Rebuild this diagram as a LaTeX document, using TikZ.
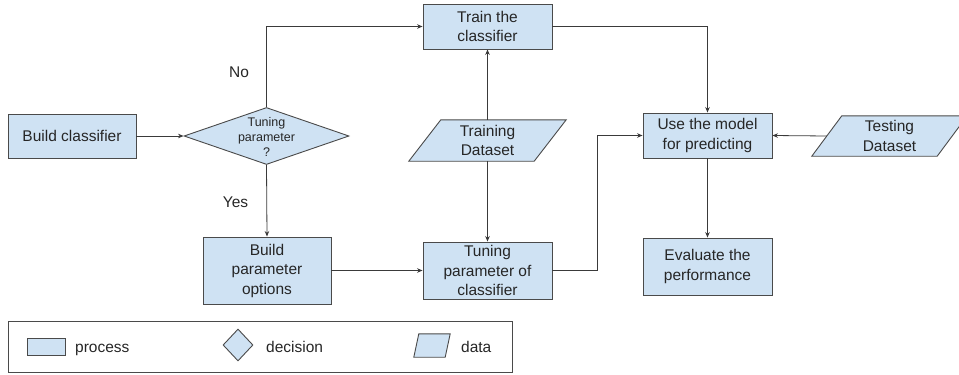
\documentclass[tikz,border=0pt]{standalone}
\usepackage{fontspec}
\setmainfont{Liberation Sans}
\usetikzlibrary{arrows.meta,shapes.geometric,backgrounds}

\definecolor{boxfill}{HTML}{CFE2F3}
\definecolor{boxline}{HTML}{4A4A4A}
\definecolor{wire}{HTML}{3A3A3A}
\definecolor{ink}{HTML}{262626}

\tikzset{
  basefont/.style={font=\fontsize{15.5}{19.5}\selectfont, text=ink},
  process/.style={rectangle, draw=boxline, fill=boxfill, line width=0.9pt,
    inner sep=0pt, align=center, basefont},
  decision/.style={diamond, draw=boxline, fill=boxfill, line width=0.9pt,
    inner sep=0pt},
  datanode/.style={rectangle, inner sep=0pt, align=center, basefont},
  smalltext/.style={align=center, inner sep=0pt,
    font=\fontsize{12.5}{15}\selectfont, text=ink},
  flow/.style={draw=wire, line width=0.8pt, -{Stealth[length=5.5pt,width=4.5pt]}},
  plain/.style={align=left, inner sep=0pt, basefont},
}

% slanted data shape drawn behind a named node
\newcommand\slantbox[2]{%
  \begin{scope}[on background layer]
    \filldraw[draw=boxline, fill=boxfill, line width=0.9pt]
      ([xshift=#2pt]#1.north west) -- ([xshift=#2pt]#1.north east) --
      ([xshift=-#2pt]#1.south east) -- ([xshift=-#2pt]#1.south west) -- cycle;
  \end{scope}}

\begin{document}
\begin{tikzpicture}[x=1pt, y=-1pt]
  \useasboundingbox (0,0) rectangle (959,375);

  % main flow
  \node[process, minimum width=128pt, minimum height=44pt] (build) at (72,136) {Build classifier};
  \node[decision, minimum width=165pt, minimum height=57pt] (decide) at (266.5,136) {};
  \node[smalltext] (decidetxt) at (266.5,137) {Tuning\\parameter\\?};
  \node[process, minimum width=129pt, minimum height=45pt] (train) at (487.5,26.5) {Train the\\classifier};
  \node[datanode, minimum width=125pt, minimum height=41pt] (trainset) at (487.5,140.5) {Training\\Dataset};
  \node[process, minimum width=128pt, minimum height=67pt] (params) at (267,270.5) {Build\\parameter\\options};
  \node[process, minimum width=129pt, minimum height=57pt] (tuning) at (487.5,270.5) {Tuning\\parameter of\\classifier};
  \node[process, minimum width=129pt, minimum height=45pt] (use) at (707.5,135.5) {Use the model\\for predicting};
  \node[process, minimum width=129pt, minimum height=57pt] (eval) at (707.5,266.5) {Evaluate the\\performance};
  \node[datanode, minimum width=125pt, minimum height=40pt] (testset) at (889.5,136) {Testing\\Dataset};
  \slantbox{trainset}{16}
  \slantbox{testset}{15}

  % branch labels
  \node[plain] (nolabel) at (239,72) {No};
  \node[plain] (yeslabel) at (235.5,202) {Yes};

  % connectors
  \draw[flow] (build) -- (decide);
  \draw[flow] (decide.north) |- (train.west);
  \draw[flow] (decide.south) -- (params.north);
  \draw[flow] (params) -- (tuning);
  \draw[flow] (trainset.north) -- (train.south);
  \draw[flow] (trainset.south) -- (tuning.north);
  \draw[flow] (train.east) -| (use.north);
  \draw[flow] (tuning.east) -- ++(45,0) |- (use.west);
  \draw[flow] (testset.west) -- (use.east);
  \draw[flow] (use) -- (eval);

  % legend
  \node[draw=boxline, line width=0.9pt, minimum width=504pt, minimum height=51pt,
        inner sep=0pt] (legend) at (260,346.5) {};
  \node[process, minimum width=38pt, minimum height=17pt] (legproc) at (46,346.5) {};
  \node[plain, anchor=base west] (legproctxt) at (75,352.5) {process};
  \node[decision, minimum width=30pt, minimum height=32pt] (legdec) at (238,345) {};
  \node[plain, anchor=base west] (legdectxt) at (266,352.5) {decision};
  \node[datanode, minimum width=31pt, minimum height=23pt] (legdata) at (432,345.5) {};
  \slantbox{legdata}{2.5}
  \node[plain, anchor=base west] (legdatatxt) at (461,352.5) {data};
\end{tikzpicture}
\end{document}
